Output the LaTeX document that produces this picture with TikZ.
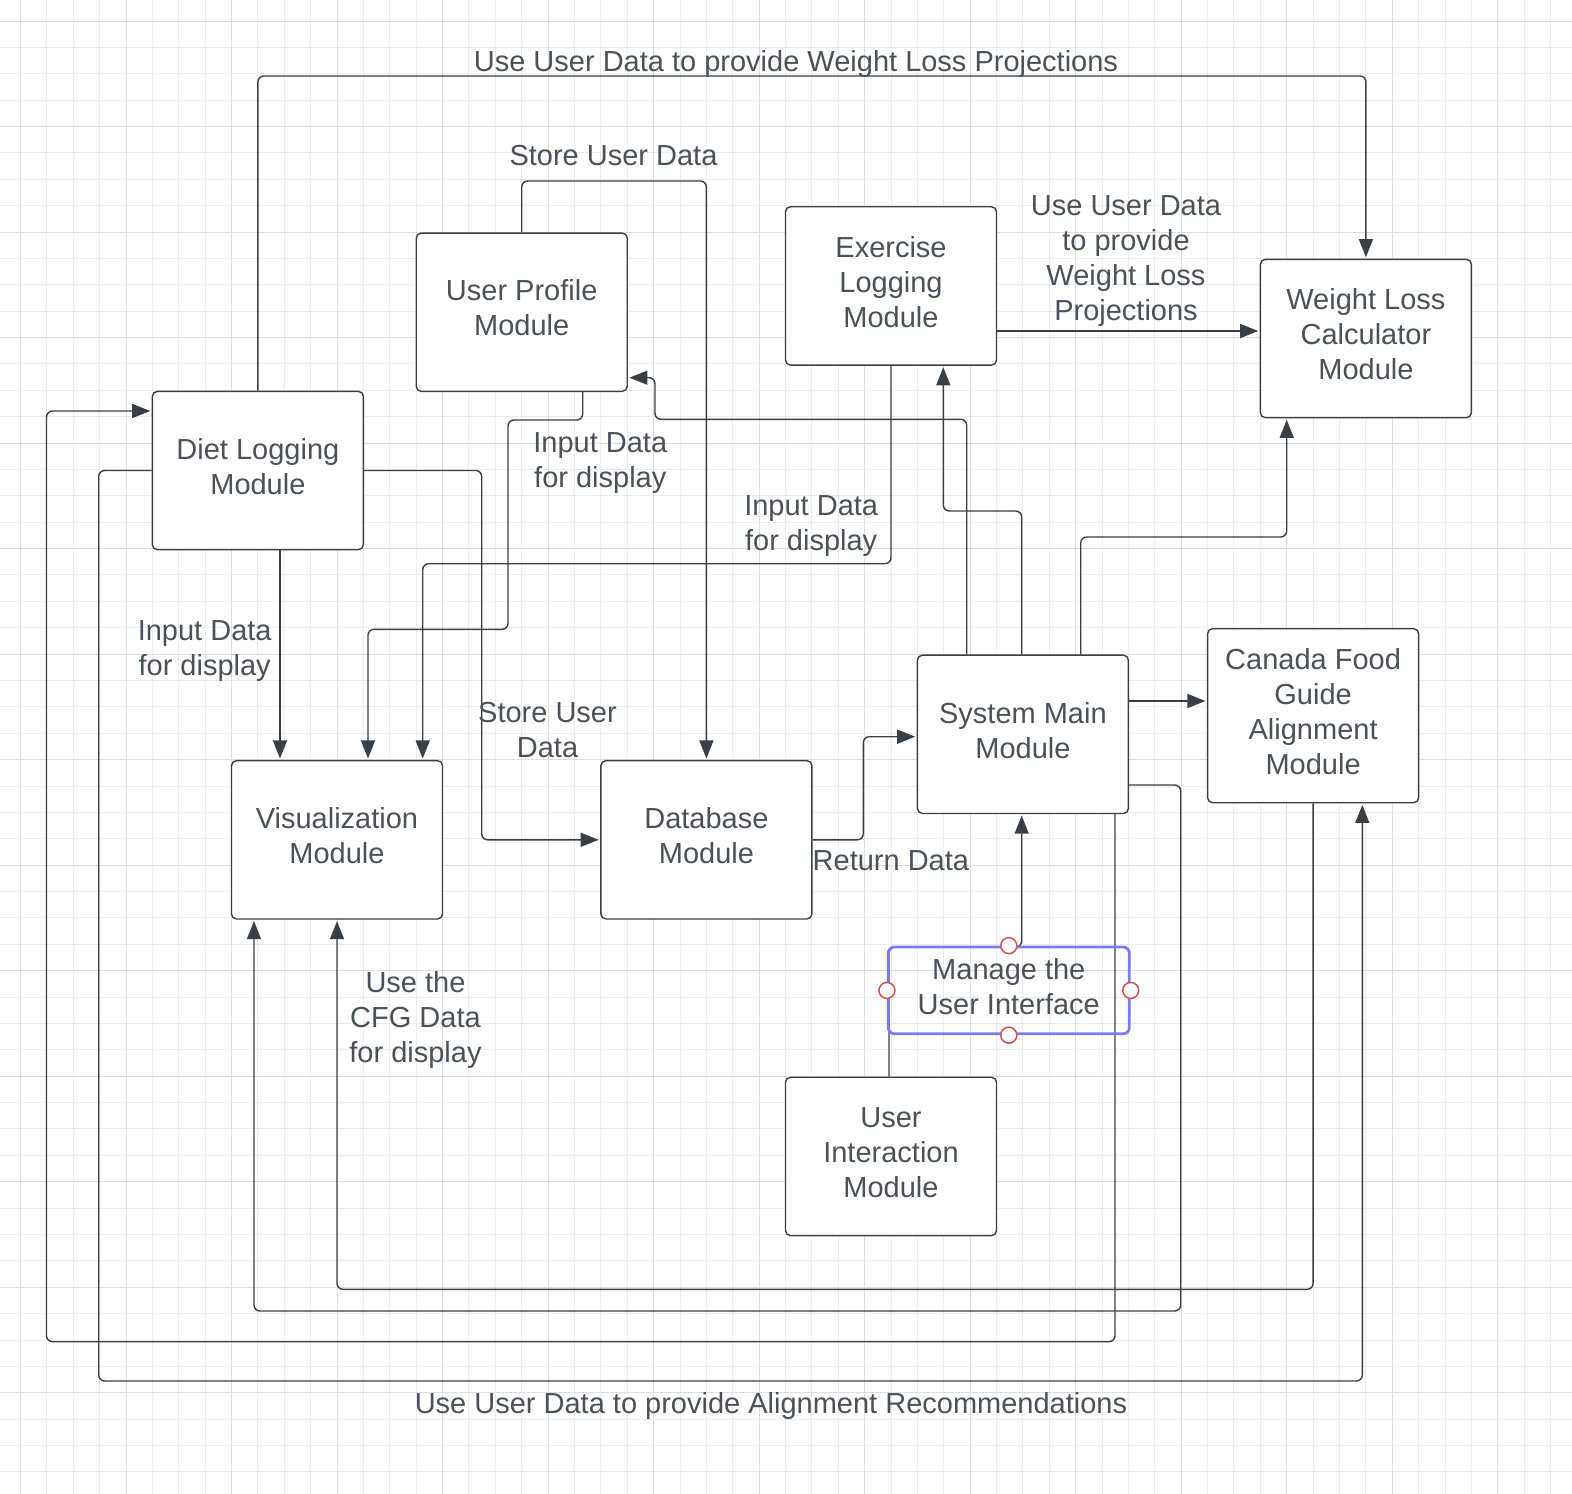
\documentclass[tikz,border=0pt]{standalone}
\usepackage{fontspec}
\setmainfont{Liberation Sans}
\usetikzlibrary{arrows.meta}
\definecolor{linec}{RGB}{58,63,70}
\definecolor{textc}{RGB}{76,81,89}
\definecolor{gridminor}{RGB}{236,236,236}
\definecolor{gridmajor}{RGB}{221,221,221}
\definecolor{selblue}{RGB}{122,122,245}
\definecolor{handlered}{RGB}{214,80,80}
\newcommand{\mystrut}{\rule[-8.5pt]{0pt}{35pt}}
\begin{document}
\begin{tikzpicture}[x=1pt,y=-1pt,
  txt/.style={text=textc, font=\fontsize{29}{35}\selectfont, align=center, inner sep=0pt,
    execute at begin node=\mystrut, execute at end node=\mystrut},
  box/.style={txt, draw=linec, line width=1.4pt, rounded corners=5pt, fill=white,
    minimum width=211pt, minimum height=158.3pt},
  conn/.style={draw=linec, line width=1.4pt, rounded corners=6pt},
  arr/.style={conn, -{Triangle[length=18pt,width=14pt]}, shorten >=1.5pt},
  minorline/.style={draw=gridminor, line width=1pt},
  majorline/.style={draw=gridmajor, line width=1pt},
  selbox/.style={txt, draw=selblue, line width=2.8pt, rounded corners=6pt,
    minimum width=241pt, minimum height=86.7pt},
  handle/.style={draw=handlered, line width=1.5pt, fill=white}]

\fill[white] (0,0) rectangle (1572,1494);
\useasboundingbox (0,0) rectangle (1572,1494);

% grid
\foreach \k in {0,...,58} {\draw[minorline] ({20.5+26.38*\k},0) -- ({20.5+26.38*\k},1494);}
\foreach \k in {0,...,55} {\draw[minorline] (0,{21+26.38*\k}) -- (1572,{21+26.38*\k});}
\foreach \k in {0,4,...,56} {\draw[majorline] ({20.5+26.38*\k},0) -- ({20.5+26.38*\k},1494);}
\foreach \k in {0,4,...,52} {\draw[majorline] (0,{21+26.38*\k}) -- (1572,{21+26.38*\k});}

\begin{scope}[yshift=-1pt]
% modules
\node[box] (up) at (521.7,311.2) {User Profile\\Module};
\node[box] (ex) at (891.0,284.9) {Exercise\\Logging\\Module};
\node[box] (wl) at (1365.9,337.5) {Weight Loss\\Calculator\\Module};
\node[box] (diet) at (257.9,469.5) {Diet Logging\\Module};
\node[box] (vis) at (337.0,838.8) {Visualization\\Module};
\node[box] (db) at (706.4,838.8) {Database\\Module};
\node[box] (sys) at (1022.9,733.3) {System Main\\Module};
\node[box, minimum height=174pt] (cfg) at (1313.1,714.7) {Canada Food\\Guide\\Alignment\\Module};
\node[box] (ui) at (891.0,1155.4) {User\\Interaction\\Module};

% connectors
\draw[arr] (diet.north) -- (diet.north |- 0,75) -- (wl.north |- 0,75) -- (wl.north);
\draw[arr] (up.north) -- (up.north |- 0,180) -- (db.north |- 0,180) -- (db.north);
\draw[arr] (ex.east |- 0,330) -- (wl.west |- 0,330);
\draw[arr] (up.south -| 582.7,0) -- (582.7,419) -- (508,419) -- (508,628.3) -- (368,628.3) -- (vis.north -| 368,0);
\draw[arr] (ex.south) -- (ex.south |- 0,562.7) -- (422.7,562.7) -- (vis.north -| 422.7,0);
\draw[arr] (sys.north -| 966.7,0) -- (966.7,418.3) -- (655,418.3) -- (655,376.7) -- (up.east |- 0,376.7);
\draw[arr] (sys.north -| 1021.7,0) -- (1021.7,510) -- (943.3,510) -- (ex.south -| 943.3,0);
\draw[arr] (sys.north -| 1080.7,0) -- (1080.7,536) -- (1286.7,536) -- (wl.south -| 1286.7,0);
\draw[arr] (db.east) -- (863.3,838.8) -- (863.3,735.7) -- (sys.west |- 0,735.7);
\draw[arr] (sys.east |- 0,700) -- (cfg.west |- 0,700);
\draw[arr] (sys.east |- 0,784) -- (1180.7,784) -- (1180.7,1310) -- (254,1310) -- (vis.south -| 254,0);
\draw[arr] (sys.south -| 1115,0) -- (1115,1340.7) -- (46.5,1340.7) -- (46.5,410) -- (diet.west |- 0,410);
\draw[arr] (diet.west) -- (98.7,469.5) -- (98.7,1380) -- (1362.3,1380) -- (cfg.south -| 1362.3,0);
\draw[arr] (diet.east) -- (481.7,469.5) -- (481.7,838.8) -- (db.west);
\draw[arr] (diet.south -| 280,0) -- (vis.north -| 280,0);
\draw[arr] (cfg.south) -- (cfg.south |- 0,1288.3) -- (vis.south |- 0,1288.3) -- (vis.south);
\draw[arr] (ui.north -| 889,0) -- (889,946) -- (1021.7,946) -- (sys.south -| 1021.7,0);

% labels
\node[txt] (l1) at (796,61) {Use User Data to provide Weight Loss Projections};
\node[txt] (l2) at (613.5,155) {Store User Data};
\node[txt] (l3) at (1126,261.5) {Use User Data\\to provide\\Weight Loss\\Projections};
\node[txt] (l4) at (600.3,462.8) {Input Data\\for display};
\node[txt] (l5) at (811.2,526.2) {Input Data\\for display};
\node[txt] (l6) at (204.7,651.5) {Input Data\\for display};
\node[txt] (l7) at (547.5,733.2) {Store User\\Data};
\node[txt] (l8) at (890.9,860.3) {Return Data};
\node[txt] (l9) at (415.5,1020) {Use the\\CFG Data\\for display};
\node[txt] (l10) at (771,1403.7) {Use User Data to provide Alignment Recommendations};

% selected label on the UI connector
\node[selbox] (mui) at (1008.8,989.4) {Manage the\\User Interface};
\foreach \a in {north,south,east,west} {\draw[handle] (mui.\a) circle (8pt);}
\end{scope}
\end{tikzpicture}
\end{document}
